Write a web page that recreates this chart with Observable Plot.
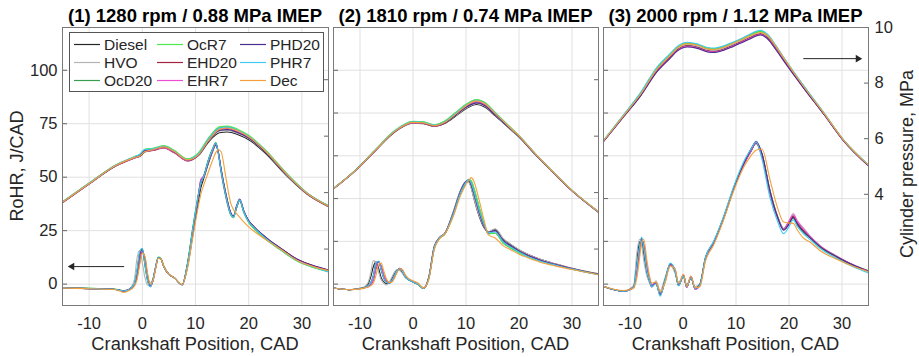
<!DOCTYPE html>
<html><head><meta charset="utf-8">
<script src="https://cdn.jsdelivr.net/npm/d3@7"></script>
<script src="https://cdn.jsdelivr.net/npm/@observablehq/plot@0.6"></script>
<style>
body{margin:0;background:#fff;}
#wrap{position:relative;width:919px;height:357px;font-family:"Liberation Sans",Arial,sans-serif;color:#262626;overflow:hidden;background:#fff}
#wrap svg{position:absolute;left:0;top:0;overflow:visible}
.t{position:absolute;white-space:nowrap;line-height:1;transform:translate(-50%,-50%)}
.ttl{font-weight:bold;font-size:18.5px;color:#000}
.xl{font-size:18.3px}
.yl{font-size:18px}
</style></head><body><div id="wrap"></div>
<script>
// ---------- data ----------
const fuels = ["Diesel","HVO","OcD20","OcR7","EHD20","EHR7","PHD20","PHR7","Dec"];
const fuelColors = ["#262626","#b4b4b4","#3a9e52","#4cea4c","#a3243f","#ee4fd2","#4a2e8e","#3fcbef","#f4a03c"];
const titles = ["(1) 1280 rpm / 0.88 MPa IMEP","(2) 1810 rpm / 0.74 MPa IMEP","(3) 2000 rpm / 1.12 MPa IMEP"];
const xTicks = [-10,0,10,20,30];
const rohrTicks = [[0,25,50,75,100],[0,10,20,30,40,50],[0,10,20,30,40,50]];
const presTicks = [[2,4,6,8],[2,4,6,8],[4,6,8,10]];

// Panel 1 : RoHR (J/CAD)
const cadR1 = [-15,-10,-5,-3.5,-2.5,-1.5,-1,-0.5,0,0.5,1,1.5,2,2.5,3,3.5,4,5,6,7.5,8.5,9.5,10.5,11,11.5,12.5,13.3,13.8,14.3,14.8,15.7,16.6,17.1,17.7,18.3,19.1,20,21,22.5,24,26,29,32,35];
const rohr1 = [
 [-1.7,-2.1,-2.5,-3.2,-2.6,-0.5,3,10,15.5,12,4,-0.5,1.5,7.5,12.2,11.8,8.5,4.5,3.0,-0.3,8,23,38,45,49,57,62.5,65,61.5,54,42.5,33.5,31.5,35.5,39,34,29.6,26.8,23.2,20.2,16.7,11.7,8.6,6.5],
 [-1.7,-2.1,-2.5,-3.0,-2.3,2,12,15.8,10,3,-0.5,0.5,2.5,8,12.4,11.8,8.5,4.5,3.0,-0.3,9.5,25.5,40.5,47,50,58,63,65.5,60.5,52,40.5,32.5,31,35.5,39,33.5,29.3,26.5,23,20,16.5,11.5,8.5,6.3],
 [-1.6,-2.0,-2.4,-3.1,-2.5,0,6,14,16,9,1.5,-1,2,8,12.5,12,8.6,4.6,3.0,-0.3,9.8,26.5,41.5,47.5,50,58.5,63.5,66,61,53,41,32.5,31,35.5,39,33.3,28.8,26,22.5,19.5,16,11,8,5.9],
 [-1.6,-2.0,-2.4,-3.1,-2.5,0,6.5,14.5,16,8.5,1.5,-1,2,8,12.6,12,8.6,4.6,3.0,-0.3,10,26.5,41.5,48,50.5,59,64,66.3,61.5,53.5,41.5,32.5,31,35.5,39,33.3,28.8,26,22.5,19.4,15.9,10.9,7.9,5.8],
 [-1.7,-2.1,-2.5,-3.2,-2.5,-0.3,4,12,15.5,11,3,-1,1.5,7.5,12.2,11.8,8.5,4.5,3.0,-0.3,9,25,40.5,48.5,50,58,63,65.5,61.5,53.5,41.5,33,31.5,36,39.5,34,29.5,26.7,23.2,20.2,16.7,11.7,8.7,6.5],
 [-1.7,-2.1,-2.5,-3.2,-2.5,-0.3,4.5,12.5,15.5,10.5,3,-1,1.5,7.5,12.2,11.8,8.5,4.5,3.0,-0.3,9,25,41,49,50.5,58,63,65.5,61,53,41.5,33,31.5,36,39.5,34,29.5,26.7,23.2,20.1,16.6,11.6,8.6,6.4],
 [-1.7,-2.1,-2.5,-3.2,-2.5,0,5.5,14,16.5,9.5,2,-1.2,2,8,12.3,11.8,8.5,4.5,3.0,-0.3,9.3,25.5,40.5,47.5,50,58.5,63.5,66,61.5,53.5,42,33.5,31.8,36.5,39.8,34,29.6,26.8,23.3,20.3,16.8,11.8,8.8,6.6],
 [-1.7,-2.1,-2.5,-3.2,-2.5,0.2,6.5,15,16.8,9,1.5,-1.3,2,8,12.3,11.8,8.5,4.5,3.0,-0.3,9.5,26,41,47.5,50,58.5,63.5,66,61,53,41.4,32.9,31.3,36,39.4,33.6,29.2,26.4,22.9,19.8,16.2,11.2,8.1,5.7],
 [-1.8,-2.2,-2.6,-3.9,-3.0,-1,2,9,14.5,13,5,0,1.5,7,12,11.8,8.6,4.6,3.0,-0.2,7.5,22,36,42,46,53,58.5,61.5,62.8,62,50,38,35,33,31.3,29,26.8,24.7,22,19.5,16.3,11.2,8.3,6.3]
];
// Panel 1 : cylinder pressure (MPa)
const cadP1 = [-15,-10,-5,-1.5,-0.5,0.5,2,4,6,8.5,10.5,12.5,14.5,16,18,20,23,27,31,35];
const pres1 = [
 [3.64,4.30,4.94,5.23,5.28,5.44,5.5,5.6,5.43,5.13,5.3,5.8,6.12,6.15,6.05,5.87,5.42,4.62,3.94,3.5],
 [3.65,4.31,4.95,5.25,5.31,5.47,5.51,5.61,5.44,5.14,5.32,5.84,6.18,6.2,6.1,5.92,5.46,4.65,3.95,3.51],
 [3.67,4.33,4.97,5.26,5.34,5.52,5.55,5.65,5.48,5.18,5.38,5.93,6.3,6.33,6.21,6.01,5.52,4.7,3.98,3.53],
 [3.68,4.34,4.98,5.27,5.35,5.54,5.57,5.67,5.5,5.2,5.4,5.95,6.33,6.36,6.24,6.03,5.54,4.71,3.99,3.54],
 [3.65,4.31,4.94,5.22,5.29,5.46,5.49,5.58,5.41,5.12,5.32,5.87,6.24,6.27,6.15,5.95,5.48,4.67,3.96,3.51],
 [3.65,4.31,4.95,5.23,5.3,5.47,5.5,5.59,5.42,5.13,5.33,5.88,6.25,6.28,6.16,5.96,5.49,4.67,3.96,3.52],
 [3.66,4.32,4.96,5.25,5.33,5.5,5.52,5.62,5.45,5.15,5.33,5.85,6.2,6.23,6.12,5.93,5.47,4.66,3.96,3.52],
 [3.67,4.33,4.97,5.27,5.35,5.53,5.55,5.64,5.47,5.17,5.37,5.92,6.29,6.32,6.2,6.0,5.51,4.69,3.98,3.53],
 [3.66,4.32,4.96,5.24,5.3,5.45,5.52,5.62,5.46,5.16,5.33,5.86,6.24,6.29,6.18,5.98,5.5,4.68,3.97,3.52]
];

// Panel 2 : RoHR
const cadR2 = [-15,-12,-9.3,-8.5,-8,-7.5,-7,-6.5,-6,-5.5,-5,-4.5,-4,-3.5,-3,-2.5,-2,-1.5,-1,0,1,2,3,4,5,6,7.5,9,10,10.5,11,11.5,12.5,13.5,14.2,15.5,17,18.5,20,22,24,27,30,35];
const rohr2 = [
 [-0.9,-1.3,-0.8,0,1.5,4.0,5.2,3.8,1.5,0.5,0.1,0.3,1.3,2.5,3.3,3.4,2.7,1.7,1.2,0.5,-0.1,-1.0,1.8,8.8,10.9,11.9,16.5,22,24,24,22.5,20,15.8,13,12.2,12.8,10.6,9.2,8.0,6.8,5.8,4.7,3.7,2.4],
 [-0.9,-1.3,-0.7,0.3,2.5,5.5,5.0,2.8,1.0,0.2,-0.2,0.4,1.6,2.8,3.4,3.2,2.5,1.6,1.1,0.5,-0.1,-1.0,1.8,8.8,10.9,11.9,16.5,22,24,23.8,22.3,20,16,13.2,12.3,12.9,10.7,9.3,8.1,6.8,5.8,4.7,3.7,2.4],
 [-0.9,-1.3,-0.9,-0.5,0,1.2,4.2,5.2,3.6,1.6,0.5,0.2,0.7,1.9,3.1,3.6,3.1,1.9,1.2,0.5,-0.1,-1.0,1.4,8.3,10.7,11.7,15.8,21.2,23.6,24.4,24,22.3,17.8,13.8,11.8,11.9,9.6,8.4,7.4,6.2,5.4,4.4,3.5,2.3],
 [-0.9,-1.3,-0.9,-0.5,0,1.3,4.3,5.3,3.6,1.6,0.5,0.2,0.7,1.9,3.1,3.6,3.1,1.9,1.2,0.5,-0.1,-1.0,1.4,8.3,10.7,11.7,15.8,21.3,23.7,24.5,24.2,22.5,18,13.9,11.8,11.9,9.6,8.4,7.3,6.2,5.4,4.4,3.5,2.3],
 [-0.9,-1.3,-0.9,-0.6,-0.2,0.8,3.5,5.2,4.2,2.0,0.8,0.3,0.6,1.7,3.0,3.7,3.2,2.0,1.3,0.6,0,-0.9,1.5,8.5,10.8,11.8,16,21.5,23.8,24.2,23.3,21.3,16.8,13.4,12,12.4,10.1,8.8,7.7,6.5,5.6,4.5,3.6,2.3],
 [-0.9,-1.3,-0.9,-0.6,-0.2,0.9,3.6,5.2,4.1,2.0,0.8,0.3,0.6,1.7,3.0,3.7,3.2,2.0,1.3,0.6,0,-0.9,1.5,8.5,10.8,11.8,16,21.5,23.8,24.3,23.4,21.4,16.9,13.4,12,12.4,10.1,8.8,7.7,6.5,5.6,4.5,3.6,2.3],
 [-0.9,-1.3,-0.9,-0.4,0.3,2.0,4.8,5.3,3.3,1.3,0.4,0.2,0.8,2.0,3.2,3.6,3.0,1.8,1.2,0.5,-0.1,-1.0,1.6,8.6,10.8,11.8,16.2,21.8,24,24.4,23.3,21.2,16.8,13.4,12.1,12.5,10.2,8.9,7.7,6.5,5.6,4.5,3.6,2.3],
 [-0.9,-1.3,-0.9,-0.4,0.2,1.8,4.8,5.4,3.4,1.4,0.4,0.2,0.8,2.0,3.2,3.6,3.0,1.8,1.2,0.5,-0.1,-1.0,1.5,8.5,10.8,11.8,16,21.5,23.8,24.4,23.6,21.6,17.2,13.6,12,12.2,9.9,8.6,7.5,6.3,5.4,4.4,3.5,2.2],
 [-0.9,-1.3,-1.0,-0.7,-0.4,0.2,2.0,4.5,4.9,3.0,1.2,0.4,0.4,1.4,2.7,3.6,3.4,2.3,1.5,0.8,0.2,-0.9,1.2,8.0,10.6,11.7,15.5,20.8,23.3,24.2,24.9,24,19.5,14.5,11.5,10.8,9.0,8.0,7.0,6.0,5.1,4.2,3.4,2.2]
];
// Panel 2 : pressure
const cadP2 = [-15,-11,-7,-3.5,0,2,4,6,8,10,12,13.5,15.5,18,20,23,26,30,35];
const pres2 = [
 [4.13,4.75,5.5,6.14,6.46,6.44,6.35,6.45,6.7,6.97,7.12,7.03,6.72,6.3,5.97,5.36,4.79,4.06,3.3],
 [4.13,4.75,5.51,6.15,6.47,6.45,6.36,6.47,6.73,7.0,7.16,7.07,6.75,6.32,5.98,5.37,4.79,4.06,3.3],
 [4.15,4.77,5.53,6.18,6.52,6.5,6.4,6.53,6.82,7.12,7.29,7.19,6.83,6.37,6.01,5.39,4.81,4.08,3.32],
 [4.15,4.78,5.54,6.19,6.53,6.51,6.41,6.54,6.83,7.13,7.3,7.2,6.84,6.38,6.02,5.4,4.81,4.08,3.32],
 [4.14,4.76,5.51,6.15,6.48,6.45,6.35,6.47,6.76,7.06,7.22,7.12,6.78,6.34,5.99,5.38,4.8,4.07,3.31],
 [4.14,4.76,5.51,6.16,6.48,6.46,6.36,6.48,6.76,7.06,7.22,7.13,6.78,6.34,6.0,5.38,4.8,4.07,3.31],
 [4.14,4.76,5.52,6.16,6.49,6.47,6.37,6.48,6.74,7.02,7.18,7.09,6.76,6.33,5.99,5.37,4.8,4.07,3.31],
 [4.15,4.77,5.53,6.18,6.51,6.49,6.39,6.51,6.8,7.1,7.27,7.17,6.82,6.36,6.01,5.39,4.81,4.08,3.32],
 [4.14,4.76,5.52,6.16,6.49,6.47,6.37,6.49,6.77,7.08,7.25,7.16,6.81,6.36,6.01,5.39,4.81,4.08,3.32]
];

// Panel 3 : RoHR
const cadR3 = [-15,-11.2,-9.3,-8.7,-8.2,-7.8,-7.4,-6.8,-6.3,-5.9,-5.1,-4.3,-3.4,-2.4,-1.5,-0.85,0.1,0.7,1.5,2.3,3.2,4.2,5.8,7.6,9.5,11.4,12.8,13.8,14.9,16.4,17.8,19,19.9,20.8,21.6,22.7,24,25.9,29,32.2,35];
const rohr3 = [
 [-0.56,-1.66,-0.5,5.5,9.8,10.2,7.0,2.5,0.5,-0.3,0.2,-2.2,1.0,4.6,3.0,-0.1,1.8,-0.5,1.4,-0.9,0,6.0,9.9,15.4,22.2,28,31.5,33.0,30.5,22,16,12.9,14.0,15.6,14.1,12.4,10.9,8.8,6.4,4.4,3.1],
 [-0.56,-1.6,-0.3,7.5,10.5,9.0,5.5,1.8,0.2,-0.8,0.8,-1.5,1.5,4.5,2.5,0.5,1.5,0,1.2,-0.6,0.2,6.2,10,15.5,22.3,28,31.2,32.8,30,21.8,16,13,14.5,16.5,14.8,13.2,11.2,9.0,6.6,4.5,3.1],
 [-0.56,-1.66,-0.7,3.8,8.3,10.6,8.6,3.4,0.9,-0.4,0.2,-2.5,0.8,4.7,3.2,-0.3,2.0,-0.7,1.6,-1.1,-0.1,5.8,9.7,15.2,22.2,27.9,31,33,30,21.6,15.8,12.9,14.3,15.4,13.8,12.2,10.8,8.6,6.3,4.35,3.0],
 [-0.56,-1.66,-0.7,3.8,8.4,10.7,8.6,3.3,0.9,-0.4,0.2,-2.5,0.8,4.7,3.2,-0.3,2.0,-0.7,1.6,-1.1,-0.1,5.8,9.7,15.2,22.2,28,31.1,33.1,30.1,21.8,15.9,13.0,14.4,15.4,13.8,12.2,10.8,8.6,6.3,4.3,3.0],
 [-0.56,-1.66,-0.8,3.0,7.5,10.5,9.2,4.0,1.2,-0.2,0.3,-2.4,0.6,4.5,3.4,-0.2,2.2,-0.8,1.8,-1.2,-0.2,5.7,9.6,15.1,22,27.8,31,33,29.8,21.3,15.7,12.8,14.2,15.9,14.3,12.6,11.0,8.8,6.4,4.4,3.0],
 [-0.56,-1.66,-0.8,3.1,7.6,10.5,9.1,3.9,1.1,-0.2,0.3,-2.4,0.6,4.5,3.4,-0.2,2.2,-0.8,1.8,-1.2,-0.2,5.7,9.6,15.1,22,27.8,31,33.1,29.9,21.4,15.8,12.9,14.5,16.2,14.6,12.9,11.1,8.9,6.5,4.4,3.0],
 [-0.56,-1.66,-0.7,4.2,8.7,10.8,8.3,3.0,0.7,-0.6,0.2,-2.6,0.9,4.8,3.1,-0.3,1.9,-0.6,1.5,-1.0,-0.1,5.9,9.8,15.3,22.2,28,31.4,33.4,30.5,21.8,15.8,12.6,13.8,15.5,13.9,12.3,10.8,8.7,6.4,4.4,3.0],
 [-0.56,-1.66,-0.7,4.3,8.8,11.0,8.4,3.0,0.7,-0.6,0.1,-2.8,0.9,4.9,3.1,-0.4,1.9,-0.6,1.5,-1.0,-0.2,6.0,10,15.6,22.6,28.5,31.5,33.3,29.2,20.3,14.8,11.8,13.2,15.0,13.4,11.8,10.4,8.3,6.0,4.0,2.6],
 [-0.56,-1.5,-0.9,1.5,6.0,9.8,10.5,5.5,1.8,0.2,0.5,-1.8,0.2,4.2,3.6,0.2,2.3,-0.5,1.9,-0.8,-0.6,5.2,9.2,14.8,21.6,27.2,30,31.3,31.6,24.5,18,14.5,14.3,14.2,12.6,10.8,9.8,7.8,5.8,4.1,2.9]
];
// Panel 3 : pressure
const cadP3 = [-15,-11.2,-8,-4.9,-2.5,-1.1,0.8,2.7,4.6,6,7.7,9.5,10.8,12.5,14.6,15.9,17.5,19,22.8,26.6,30.3,35];
const pres3 = [
 [5.91,6.81,7.58,8.46,8.93,9.2,9.35,9.3,9.17,9.15,9.23,9.37,9.48,9.63,9.77,9.65,9.26,8.85,7.84,6.89,5.93,5.03],
 [5.92,6.82,7.6,8.49,8.96,9.23,9.38,9.33,9.2,9.18,9.26,9.4,9.51,9.66,9.8,9.68,9.28,8.87,7.85,6.9,5.94,5.04],
 [5.93,6.85,7.63,8.54,9.01,9.28,9.43,9.38,9.25,9.23,9.31,9.45,9.56,9.71,9.86,9.73,9.33,8.9,7.88,6.91,5.95,5.05],
 [5.93,6.85,7.64,8.55,9.02,9.29,9.44,9.39,9.26,9.24,9.32,9.46,9.57,9.72,9.87,9.74,9.34,8.91,7.88,6.92,5.95,5.05],
 [5.9,6.8,7.56,8.44,8.91,9.18,9.33,9.28,9.15,9.13,9.21,9.35,9.46,9.61,9.76,9.63,9.24,8.83,7.83,6.88,5.93,5.03],
 [5.9,6.8,7.55,8.43,8.9,9.17,9.32,9.27,9.14,9.12,9.2,9.34,9.45,9.6,9.75,9.62,9.23,8.82,7.82,6.88,5.93,5.03],
 [5.9,6.79,7.54,8.41,8.88,9.15,9.3,9.25,9.12,9.1,9.18,9.32,9.43,9.58,9.73,9.6,9.21,8.8,7.81,6.87,5.92,5.02],
 [5.94,6.86,7.66,8.58,9.05,9.32,9.47,9.41,9.28,9.26,9.34,9.48,9.59,9.75,9.9,9.77,9.36,8.93,7.9,6.93,5.96,5.06],
 [5.92,6.83,7.6,8.5,8.98,9.26,9.41,9.36,9.23,9.21,9.29,9.43,9.54,9.69,9.82,9.72,9.33,8.9,7.87,6.91,5.95,5.05]
];
// direction arrows (panel, axis, from CAD, to CAD, level)
const arrows = [
 {panel: 0, axis: "rohr", from: -3.4, to: -13.2, at: 8.2},
 {panel: 2, axis: "pres", from: 22.7, to: 33.0, at: 8.88}
];

// ---------- layout ----------
const W = 919, H = 357;
const frames = [[62,328],[333,598],[603,868]];
const mTop = 27, mBottom = H - 305;
const rohrDomains = [[-10,120],[-5,60],[-5,60]];
const presDomains = [[0,9.85],[0,9.85],[0,10]];
const ink = "#262626";
const panels = [
  {cadR: cadR1, rohr: rohr1, cadP: cadP1, pres: pres1},
  {cadR: cadR2, rohr: rohr2, cadP: cadP2, pres: pres2},
  {cadR: cadR3, rohr: rohr3, cadP: cadP3, pres: pres3}
];
const rows = (cad, vals) => fuels.flatMap((f, i) => cad.map((c, j) => ({fuel: f, cad: c, v: vals[i][j]})));
const wrap = document.getElementById("wrap");
const color = {domain: fuels, range: fuelColors};
const style = {background: "transparent", fontFamily: '"Liberation Sans", Arial, sans-serif', fontSize: "16.5px", color: ink, overflow: "visible"};
const plain = d => String(d);

function arrowMarks(a) {
  const d = [a];
  return [
    Plot.link(d, {x1: "from", x2: "to", y1: "at", y2: "at", stroke: ink, strokeWidth: 1}),
    Plot.dot(d, {x: "to", y: "at", symbol: "triangle2", r: 3.6, rotate: a.to < a.from ? -90 : 90, fill: ink, stroke: null})
  ];
}

panels.forEach((p, i) => {
  const [L, R] = frames[i];
  const geom = {width: W, height: H, marginLeft: L, marginRight: W - R, marginTop: mTop, marginBottom: mBottom, style};
  const rohrPlot = Plot.plot({
    ...geom, color,
    x: {domain: [-15, 35], axis: null},
    y: {domain: rohrDomains[i], axis: null},
    marks: [
      Plot.gridX({ticks: xTicks, stroke: "#e1e1e1", strokeOpacity: 1}),
      Plot.gridY({ticks: rohrTicks[i], stroke: "#e1e1e1", strokeOpacity: 1}),
      Plot.line(rows(p.cadR, p.rohr), {x: "cad", y: "v", z: "fuel", stroke: "fuel", strokeWidth: 1.1, curve: "monotone-x"}),
      Plot.axisX({ticks: xTicks, tickSize: 0, tickPadding: 12, label: null, fontSize: 16.5, fill: ink, tickFormat: plain}),
      Plot.axisY({ticks: rohrTicks[i], anchor: "left", tickSize: -5, tickPadding: 10, label: null, stroke: "#666", fill: ink, fontSize: 16.5,
        tickFormat: i === 0 ? plain : (() => "")}),
      ...arrows.filter(a => a.panel === i && a.axis === "rohr").flatMap(arrowMarks)
    ]
  });
  wrap.appendChild(rohrPlot);
  const presPlot = Plot.plot({
    ...geom, color,
    x: {domain: [-15, 35], axis: null},
    y: {domain: presDomains[i], axis: null},
    marks: [
      Plot.line(rows(p.cadP, p.pres), {x: "cad", y: "v", z: "fuel", stroke: "fuel", strokeWidth: 1.1, curve: "monotone-x"}),
      Plot.axisY({ticks: presTicks[i], anchor: "right", tickSize: -5, tickPadding: 11, label: null, stroke: "#666", fill: ink, fontSize: 16.5,
        tickFormat: i === 2 ? plain : (() => "")}),
      Plot.frame({stroke: "#7a7a7a", strokeWidth: 1}),
      ...arrows.filter(a => a.panel === i && a.axis === "pres").flatMap(arrowMarks)
    ]
  });
  wrap.appendChild(presPlot);

  const t = document.createElement("div");
  t.className = "t ttl"; t.textContent = titles[i];
  t.style.left = ((L + R) / 2) + "px"; t.style.top = "15.5px";
  wrap.appendChild(t);
  const xl = document.createElement("div");
  xl.className = "t xl"; xl.textContent = "Crankshaft Position, CAD";
  xl.style.left = ((L + R) / 2) + "px"; xl.style.top = "344px";
  wrap.appendChild(xl);
});

// y labels
const yl = document.createElement("div");
yl.className = "t yl"; yl.textContent = "RoHR, J/CAD";
yl.style.left = "17px"; yl.style.top = "166px"; yl.style.transform = "translate(-50%,-50%) rotate(-90deg)";
wrap.appendChild(yl);
const yr = document.createElement("div");
yr.className = "t yl"; yr.textContent = "Cylinder pressure, MPa";
yr.style.left = "907px"; yr.style.top = "164px"; yr.style.transform = "translate(-50%,-50%) rotate(-90deg)";
wrap.appendChild(yr);

// legend
const leg = d3.select(wrap).append("svg").attr("width", W).attr("height", H)
  .style("font-family", '"Liberation Sans", Arial, sans-serif').style("font-size", "15.5px");
leg.append("rect").attr("x", 69.5).attr("y", 32.5).attr("width", 254).attr("height", 59)
  .attr("fill", "#fff").attr("stroke", "#555").attr("stroke-width", 1);
const colX = [74, 157, 240], rowY = [44.5, 62.5, 80.5];
fuels.forEach((f, k) => {
  const c = Math.floor(k / 3), r = k % 3;
  leg.append("line").attr("x1", colX[c]).attr("x2", colX[c] + 26).attr("y1", rowY[r]).attr("y2", rowY[r])
    .attr("stroke", fuelColors[k]).attr("stroke-width", 1.2);
  leg.append("text").attr("x", colX[c] + 30).attr("y", rowY[r]).attr("dy", "0.35em").attr("fill", ink).text(f);
});
</script></body></html>
